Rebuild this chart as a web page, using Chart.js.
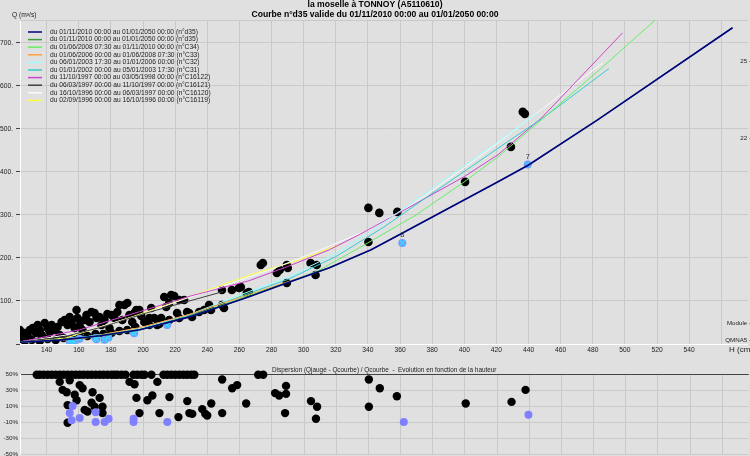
<!DOCTYPE html>
<html><head><meta charset="utf-8">
<script src="https://cdn.jsdelivr.net/npm/chart.js@4.4.1/dist/chart.umd.min.js"></script>
<style>
html,body{margin:0;padding:0;background:#e0e0e0;overflow:hidden;width:750px;height:456px;position:relative}
#top{position:absolute;left:0;top:0}
#bot{position:absolute;left:0;top:362px}
</style></head><body>
<canvas id="top" width="753" height="362"></canvas>
<canvas id="bot" width="753" height="100"></canvas>
<script>
// ---------- axis definitions ----------
const H_TICKS = [140,160,180,200,220,240,260,280,300,320,340,360,380,400,420,440,460,480,500,520,540,560];
const Q_TICKS = [0,100,200,300,400,500,600,700];
const PCT_TICKS = [-50,-40,-30,-20,-10,0,10,20,30,40,50];
const H_MIN = 123.4, H_MAX = 576.5, Q_MAX = 753;

const TITLE = ["la moselle à TONNOY (A5110610)", "Courbe n°d35 valide du 01/11/2010 00:00 au 01/01/2050 00:00"];
const DISP_TITLE = "Dispersion (Qjaugé - Qcourbe) / Qcourbe  -  Evolution en fonction de la hauteur";

const CURVE_LABELS = [
  "du 01/11/2010 00:00 au 01/01/2050 00:00 (n°d35)",
  "du 01/11/2010 00:00 au 01/01/2050 00:00 (n°d35)",
  "du 01/06/2008 07:30 au 01/11/2010 00:00 (n°C34)",
  "du 01/06/2006 00:00 au 01/06/2008 07:30 (n°C33)",
  "du 06/01/2003 17:30 au 01/01/2006 00:00 (n°C32)",
  "du 01/01/2002 00:00 au 05/01/2003 17:30 (n°C31)",
  "du 11/10/1997 00:00 au 03/05/1998 00:00 (n°C16122)",
  "du 06/03/1997 00:00 au 11/10/1997 00:00 (n°C16121)",
  "du 16/10/1996 00:00 au 06/03/1997 00:00 (n°C16120)",
  "du 02/09/1996 00:00 au 16/10/1996 00:00 (n°C16119)"
];

// ---------- rating curves (H cm, Q m3/s) ----------
const d35H  = [123.4,148,173,198,229,266,286,316,342,363,421,440,483,567];
const d35Q  = [4,9,19,33,63,110,137,177,219,261,377,416,521,735];
const d35bH = [123.4,140,160,180,198,229,266,286,316,342,363,421,440,483,567];
const d35bQ = [5,8,13,22,33,63,110,137,177,219,261,377,416,521,735];
const c34H  = [123.4,150,175,200,230,266,290,310,340,370,400,421,448,485,521];
const c34Q  = [4,10,21,35,65,113,143,172,235,300,377,435,521,640,760];
const c33H  = [123.4,150,165,180,198,230,266,300];
const c33Q  = [4,9,14,26,38,70,115,157];
const c32H  = [123.4,150,175,200,230,266,290,320,350,380,400,421,445];
const c32Q  = [4,10,22,38,70,122,155,210,282,362,415,470,535];
const c31H  = [123.4,150,175,200,230,266,290,320,350,380,400,421,450,490];
const c31Q  = [4,10,22,37,68,118,150,203,272,350,401,455,528,640];
const c16122H = [123.4,160.5,197.7,230,266,290,316,334,359,400,421,448,498.5];
const c16122Q = [5,33,75,112,147,180,219,253,304,389,440,525,723];
const c16121H = [123.4,150,175,200,225,250];
const c16121Q = [5,16,40,70,96,122];
const c16120H = [123.4,160,200,230,250,281,310,340,370,400,421,441,486];
const c16120Q = [5,25,70,110,135,175,218,265,330,410,467,525,653];
const c16119H = [123.4,152,193,227,266,297,309,322];
const c16119Q = [5,14,63,107,160,195,212,230];

const CURVE_H = [d35H,d35bH,c34H,c33H,c32H,c31H,c16122H,c16121H,c16120H,c16119H];
const CURVE_Q = [d35Q,d35bQ,c34Q,c33Q,c32Q,c31Q,c16122Q,c16121Q,c16120Q,c16119Q];
const CURVE_COLORS = ['#000080','#3c9c3c','#66ee66','#ffa040','#99ffff','#33cccc','#cc44cc','#404040','#fafafa','#ffff40'];
const CURVE_WIDTHS = [1.6,1.2,1,1,1,1,1,1,1,1];

// ---------- gaugings (H cm, Q m3/s) ----------
const gaugingH = [123.3,123.3,124.5,126.4,128.2,129.5,131.3,133.2,134.4,135.7,136.9,138.8,140.6,141.9,143.1,145,146.8,148.1,149.3,151.2,153,154.3,155.5,157.4,158.6,159.2,160.5,162.3,163.6,164.8,166.7,167.9,169.8,171,172.9,174.1,176,177.8,179.1,180.3,182.2,184,185.3,187.1,188.4,190.2,191.5,193.3,194.6,195.8,197.7,198.9,200.8,202.6,203.9,205.1,207,208.8,211.3,213.2,214.4,216.3,217.5,219.4,221.2,222.5,225.6,227.4,228.7,230.5,234.9,238,241.1,242.3,249.1,249.1,250.4,255.3,259.7,260.9,264.6,265.9,273.3,274.6,283.3,285.1,289.5,290.1,289.5,304.3,308.1,307.4,340.3,347.1,358.3,340.3,400.5,429,436.4,437.7,
  126.4,130.7,135.7,140.6,145.6,150.5,155.5,160.5,165.4,170.4,175.3,180.3,185.3,190.2,195.2,203.9,210.1,216.3,222.5];
const gaugingQ = [32.6,20.9,14,25.6,18.6,32.6,37.2,25.6,44.2,32.6,20.9,48.8,37.2,27.9,44.2,32.6,39.5,20.9,51.2,55.8,44.2,62.8,51.2,37.2,79.1,60.5,44.2,32.6,55.8,67.4,51.2,74.4,72.1,60.5,62.8,44.2,55.8,69.8,37.2,67.4,60.5,74.4,90.7,55.8,90.7,95.3,67.4,51.2,72.1,79.1,79.1,65.1,51.2,51.2,60.5,83.7,60.5,44.2,60.5,109.3,86,95.3,114,111.6,72.1,102.3,102.3,74.4,72.1,62.8,74.4,79.1,90.7,79.1,125.6,90.7,83.7,125.6,130.2,132.6,118.6,121,183.7,188.4,165.1,172.1,183.7,176.7,141.9,188.4,183.7,160.5,316.3,304.7,307,237.2,376.7,458.1,539.5,534.9,
  7,9.3,7,11.6,9.3,14,11.6,16.3,18.6,23.3,23.3,25.6,30.2,32.6,39.5,44.2,46.5,55.8,60.5];

// recent gaugings (blue)
const recentH = [154.3,155.5,157,160.5,170.4,171,176,178.5,194,194.5,215,361.4,439.5];
const recentQ = [6,9,5,12,14,11,10,15,28,25,44,235,417];
const recentTags = ['','','','','','','','','','','','8','7'];

// right-hand reference levels
const RIGHT_MARK_LABELS = ['25 -','22 -','Module -','QMNA5 -'];
const RIGHT_MARK_Q = [656,479,49,9];

// ---------- dispersion (H cm, %) ----------
const dispH = [133.8,135.7,138.1,140.6,143.1,145.6,148.1,150.5,153,155.5,158,160.5,162.9,165.4,167.9,170.4,172.9,175.3,177.8,180.3,182.2,184,186.5,189,194,196.4,198.9,200.8,205.1,212.6,215,217.5,220,222.5,225,227.4,229.9,231.8,271.5,274.6,
  148.1,154.3,149.9,152.4,160.5,162.3,157.4,158.6,168.5,172.9,167.9,169.8,174.7,174.7,163.6,165.4,153,153,191.5,194.6,208.8,195.8,197.7,202.6,205.7,210.1,216.3,221.9,227.4,228.7,230.5,236.7,238.6,239.8,242.3,249.1,249.1,255.3,258.4,264,282,284.5,288.8,288.8,288.2,304.3,308.1,307.4,340.3,340.3,347.1,357.7,400.5,429,437.7];
const dispPct = [50,50,50,50,50,50,50,50,50,50,50,50,50,50,50,50,50,50,50,50,50,50,50,50,50,50,50,50,50,50,50,50,50,50,50,50,50,50,50,50,
  41,43,31,28,37,33,25,18,28,21,15,10,10,2,6,4,12,-10,41,38,41,21,2,18,24,2,22,-3,17,2,1,7,1,-1,14,44,2,33,37,14,27,24,36,26,2,17,10,-5,44,10,33,23,14,16,31];
const dispRecentH = [156.1,154.3,155.5,160.5,170.4,170.4,176,178.5,194,194,215,362,439.5];
const dispRecentPct = [11,2,-7,-4,3,-9,-9,-5,-5,-9,-9,-9,0];

// ---------- helpers ----------
const pts = (xs, ys) => xs.map((x, i) => ({x, y: ys[i]}));
const FONT = '"Liberation Sans", Arial, sans-serif';
Chart.defaults.font.family = FONT;
Chart.defaults.color = '#222';

const curveDatasets = CURVE_LABELS.map((lab, i) => ({
  label: lab, data: pts(CURVE_H[i], CURVE_Q[i]), showLine: true,
  borderColor: CURVE_COLORS[i], borderWidth: CURVE_WIDTHS[i], pointRadius: 0, fill: false, tension: 0
}));

const legendPlugin = {
  id: 'curveLegend',
  afterDatasetsDraw(chart) {
    const ctx = chart.ctx, a = chart.chartArea;
    ctx.save();
    ctx.font = '6.7px ' + FONT;
    ctx.textBaseline = 'middle'; ctx.textAlign = 'left';
    CURVE_LABELS.forEach((lab, i) => {
      const y = a.top + 12 + i * 7.6;
      ctx.strokeStyle = CURVE_COLORS[i]; ctx.lineWidth = 1.5;
      ctx.beginPath(); ctx.moveTo(a.left + 8, y); ctx.lineTo(a.left + 22, y); ctx.stroke();
      ctx.fillStyle = '#222'; ctx.fillText(lab, a.left + 30, y);
    });
    ctx.restore();
  }
};

const topText = {
  id: 'topText',
  beforeDatasetsDraw(chart) {
    const ctx = chart.ctx, a = chart.chartArea;
    ctx.save(); ctx.strokeStyle = '#c9c9c9'; ctx.lineWidth = 1;
    ctx.beginPath(); ctx.moveTo(a.left, a.top + 0.5); ctx.lineTo(a.right, a.top + 0.5); ctx.stroke();
    ctx.restore();
  },
  afterDraw(chart) {
    const ctx = chart.ctx, ys = chart.scales.y, xs = chart.scales.x;
    ctx.save();
    ctx.fillStyle = '#222'; ctx.textBaseline = 'middle'; ctx.textAlign = 'left';
    ctx.font = '6.7px ' + FONT;
    ctx.fillText('Q (m³/s)', 12, 15);
    ctx.font = '8px ' + FONT;
    ctx.fillText('H (cm)', 729, 350);
    ctx.font = '6.2px ' + FONT; ctx.textAlign = 'right';
    RIGHT_MARK_LABELS.forEach((t, i) => ctx.fillText(t, 751, ys.getPixelForValue(RIGHT_MARK_Q[i])));
    ctx.textAlign = 'center'; ctx.fillStyle = '#333'; ctx.font = '7.5px ' + FONT;
    recentTags.forEach((t, i) => {
      if (t) ctx.fillText(t, xs.getPixelForValue(recentH[i]), ys.getPixelForValue(recentQ[i]) - 8);
    });
    ctx.restore();
  }
};

new Chart(document.getElementById('top'), {
  type: 'scatter',
  data: { datasets: [
    ...curveDatasets,
    { label: 'recentCross', data: pts(recentH, recentQ), pointStyle: 'crossRot', pointRadius: 3.5, borderColor: '#33ddff', borderWidth: 1.2, backgroundColor: 'rgba(0,0,0,0)' },
    { label: 'recent', data: pts(recentH, recentQ), pointRadius: 4, backgroundColor: '#6f9cff', borderWidth: 0 },
    { label: 'gaugings', data: pts(gaugingH, gaugingQ), pointRadius: 4.3, backgroundColor: '#000000', borderWidth: 0 }
  ]},
  options: {
    responsive: false, animation: false, events: [],
    layout: { padding: { right: 3 } },
    plugins: {
      legend: { display: false }, tooltip: { enabled: false },
      title: { display: true, text: TITLE, color: '#000', padding: 0, font: { size: 8.6, weight: 'bold', lineHeight: '10px' } }
    },
    scales: {
      x: { type: 'linear', min: H_MIN, max: H_MAX,
        afterBuildTicks: s => { s.ticks = H_TICKS.map(v => ({ value: v })); },
        afterFit: s => { s.height = 18; },
        grid: { color: '#c9c9c9', drawTicks: false },
        border: { color: '#ffffff' },
        ticks: { padding: 2, font: { size: 6.7 }, color: '#222', callback: v => v === 560 ? '' : String(v) } },
      y: { type: 'linear', min: 0, max: Q_MAX,
        afterBuildTicks: s => { s.ticks = Q_TICKS.map(v => ({ value: v })); },
        afterFit: s => { s.width = 20; },
        grid: { color: '#c9c9c9', tickLength: 4, tickColor: '#444' },
        border: { color: '#ffffff' },
        ticks: { padding: 3, font: { size: 6.7 }, color: '#222', callback: v => v === 0 ? '' : v + '.' } }
    }
  },
  plugins: [topText, legendPlugin]
});

const dispText = {
  id: 'dispText',
  afterDraw(chart) {
    const ctx = chart.ctx;
    ctx.save(); ctx.fillStyle = '#222'; ctx.textBaseline = 'middle'; ctx.textAlign = 'left';
    ctx.font = '6.4px ' + FONT;
    ctx.fillText(DISP_TITLE, 272, 8);
    ctx.restore();
  }
};

new Chart(document.getElementById('bot'), {
  type: 'scatter',
  data: { datasets: [
    { label: 'recent', data: pts(dispRecentH, dispRecentPct), pointRadius: 4, backgroundColor: '#8080ff', borderWidth: 0, clip: false },
    { label: 'gaugings', data: pts(dispH, dispPct), pointRadius: 4.2, backgroundColor: '#000000', borderWidth: 0, clip: false }
  ]},
  options: {
    responsive: false, animation: false, events: [],
    layout: { padding: { top: 12.7, right: 3, bottom: 7.3 } },
    plugins: { legend: { display: false }, tooltip: { enabled: false } },
    scales: {
      x: { type: 'linear', min: H_MIN, max: H_MAX,
        afterBuildTicks: s => { s.ticks = H_TICKS.map(v => ({ value: v })); },
        afterFit: s => { s.height = 0; },
        ticks: { display: false }, grid: { color: '#c9c9c9', drawTicks: false }, border: { display: false } },
      y: { type: 'linear', min: -50, max: 50,
        afterBuildTicks: s => { s.ticks = PCT_TICKS.map(v => ({ value: v })); },
        afterFit: s => { s.width = 20; },
        grid: { drawTicks: false,
          color: c => c.tick.value === 0 ? '#111' : (c.tick.value === 50 ? '#444' : '#c9c9c9'),
          lineWidth: c => c.tick.value === 0 ? 1.5 : 1 },
        border: { color: '#ffffff' },
        ticks: { padding: 2, font: { size: 6.2 }, color: '#222', callback: v => (v % 20 !== 0) ? v + '%' : '' } }
    }
  },
  plugins: [dispText]
});
</script>
</body></html>
